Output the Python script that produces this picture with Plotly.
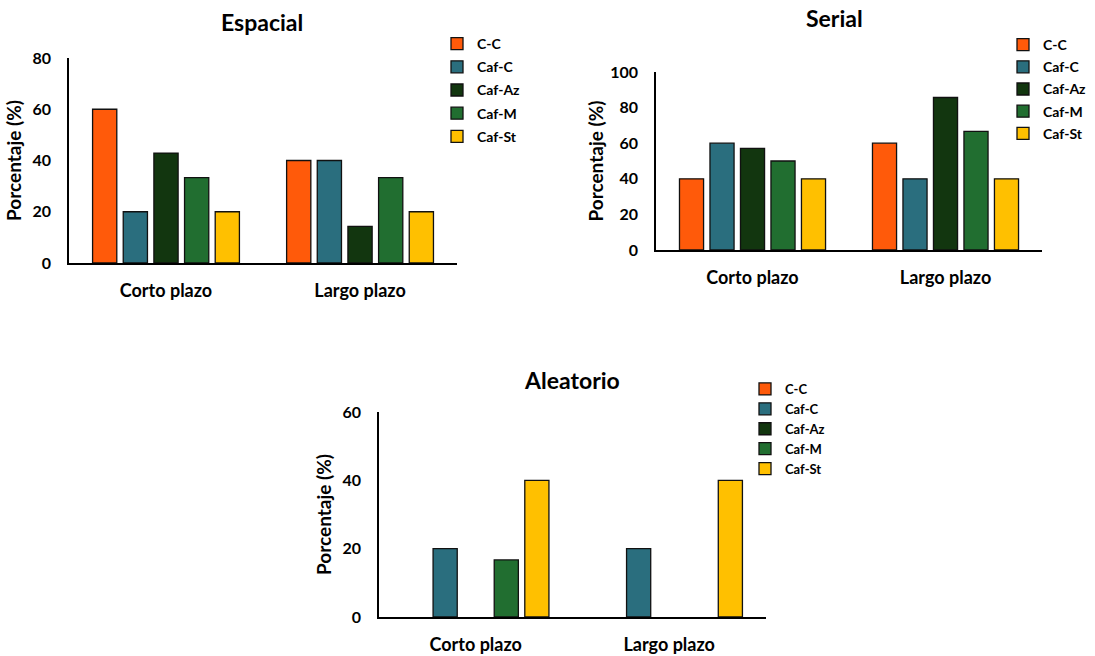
import plotly.graph_objects as go

# Data: percentage per group, for short- and long-term recall
periods = ["Corto plazo", "Largo plazo"]
groups = ["C-C", "Caf-C", "Caf-Az", "Caf-M", "Caf-St"]
colors = ["#FF5A0A", "#2A6E7E", "#12360F", "#216E30", "#FFC000"]

espacial = {
    "C-C": [60, 40],
    "Caf-C": [20, 40],
    "Caf-Az": [42.9, 14.3],
    "Caf-M": [33.3, 33.3],
    "Caf-St": [20, 20],
}
serial = {
    "C-C": [40, 60],
    "Caf-C": [60, 40],
    "Caf-Az": [57.1, 85.7],
    "Caf-M": [50, 66.7],
    "Caf-St": [40, 40],
}
aleatorio = {
    "C-C": [0, 0],
    "Caf-C": [20, 20],
    "Caf-Az": [0, 0],
    "Caf-M": [16.7, 0],
    "Caf-St": [40, 40],
}

panels = [
    # (title, data, xaxis, yaxis, legend, ymax)
    ("Espacial", espacial, "x", "y", "legend", 80),
    ("Serial", serial, "x2", "y2", "legend2", 100),
    ("Aleatorio", aleatorio, "x3", "y3", "legend3", 60),
]

FONT = "Lato, 'Open Sans', sans-serif"

fig = go.Figure()
for title, data, xa, ya, lg, ymax in panels:
    for g, c in zip(groups, colors):
        # zero-height bars are left empty so no outline is stroked on the axis
        fig.add_trace(go.Bar(
            x=periods, y=[v if v else None for v in data[g]], name=g,
            marker=dict(color=c, line=dict(color="#111111", width=1.3)),
            xaxis=xa, yaxis=ya, legend=lg,
            legendgroup=f"{title}-{g}",
        ))

axis_common = dict(showline=True, linecolor="black", linewidth=1.5,
                   showgrid=False, zeroline=False, ticks="", automargin=False)

domains = {
    "x": [0.063, 0.4174], "y": [0.5991, 0.9116],
    "x2": [0.5991, 0.9516], "y2": [0.6189, 0.8902],
    "x3": [0.3461, 0.6995], "y3": [0.0595, 0.372],
}
title_standoff = {"y": 6, "y2": 2, "y3": 6}

layout = dict(
    width=1095, height=656,
    margin=dict(l=0, r=0, t=0, b=0, autoexpand=False),
    paper_bgcolor="white", plot_bgcolor="white",
    barmode="group", bargap=0.21, bargroupgap=0.21,
    font=dict(family=FONT, color="black"),
)

for i, (title, data, xa, ya, lg, ymax) in enumerate(panels):
    sx = "" if i == 0 else str(i + 1)
    layout["xaxis" + sx] = dict(
        axis_common, domain=domains[xa], anchor=ya,
        tickfont=dict(family=FONT, size=18, color="black", weight="bold"),
        ticklabelstandoff=11,
    )
    layout["yaxis" + sx] = dict(
        axis_common, domain=domains[ya], anchor=xa,
        range=[0, ymax], dtick=20, ticklabelstandoff=13,
        tickfont=dict(family=FONT, size=16, color="black", weight="bold"),
        title=dict(text="Porcentaje (%)", standoff=title_standoff[ya],
                   font=dict(family=FONT, size=19, color="black", weight="bold")),
    )

# legend: (left x, top y, font size, gap between entries)
legend_pos = {
    "legend": (437, 28, 14, 2),
    "legend2": (1003, 29, 14, 1),
    "legend3": (745, 374, 13, 0),
}
for lg, (px, py, fs, gap) in legend_pos.items():
    layout[lg] = dict(
        x=px / 1095, y=1 - py / 656, xanchor="left", yanchor="top",
        bgcolor="rgba(0,0,0,0)", borderwidth=0, tracegroupgap=gap,
        font=dict(family=FONT, size=fs, color="black", weight="bold"),
        itemclick=False,
    )

titles = [("Espacial", 262, 22), ("Serial", 834, 18), ("Aleatorio", 572, 380)]
layout["annotations"] = [
    dict(text=t, x=cx / 1095, y=1 - cy / 656, xref="paper", yref="paper",
         showarrow=False, xanchor="center", yanchor="middle",
         font=dict(family=FONT, size=23, color="black", weight="bold"))
    for t, cx, cy in titles
]

fig.update_layout(**layout)
fig.write_html("out.html")
